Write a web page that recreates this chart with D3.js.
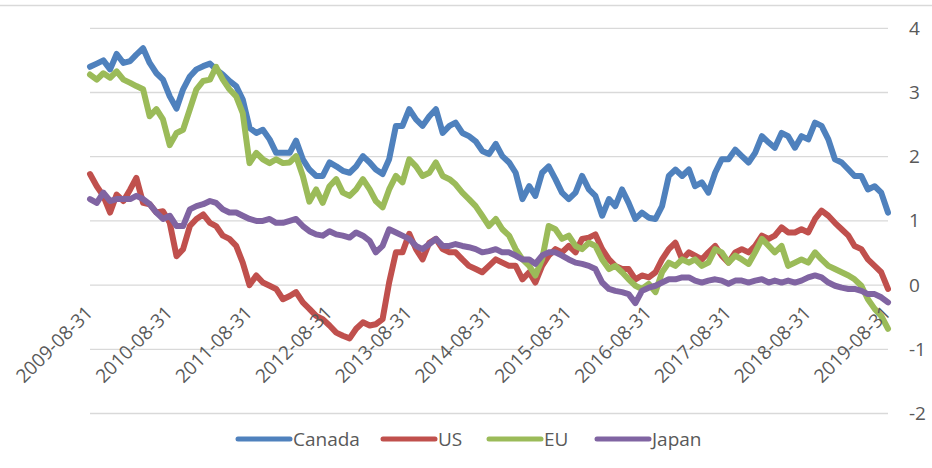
<!DOCTYPE html>
<html><head><meta charset="utf-8">
<script src="https://cdn.jsdelivr.net/npm/d3@7"></script>
<style>body{margin:0;background:#fff}svg{display:block}text{font-family:"Open Sans",sans-serif;fill:#595959}</style>
</head><body><svg id="c" width="932" height="468"></svg>
<script>
// Monthly readings starting 2009-08-31 (121 months)
const startDate = "2009-08-31";
const seriesNames = ["Canada","US","EU","Japan"];
const seriesColors = ["#4F81BD","#C0504D","#9BBB59","#8064A2"];
const tickLabels = ["2009-08-31","2010-08-31","2011-08-31","2012-08-31","2013-08-31","2014-08-31","2015-08-31","2016-08-31","2017-08-31","2018-08-31","2019-08-31"];
const yTicks = [-2,-1,0,1,2,3,4];

const canada = [3.4,3.45,3.5,3.36,3.6,3.46,3.49,3.59,3.69,3.46,3.3,3.2,2.94,2.75,3.05,3.25,3.36,3.41,3.45,3.36,3.28,3.18,3.1,2.89,2.45,2.37,2.42,2.27,2.06,2.06,
 2.06,2.25,1.96,1.8,1.7,1.7,1.91,1.85,1.78,1.75,1.85,2.01,1.91,1.8,1.73,1.96,2.48,2.48,2.74,2.58,2.48,2.63,2.74,2.37,2.48,2.53,2.37,2.32,2.24,2.09,
 2.04,2.2,2.01,1.91,1.75,1.34,1.54,1.39,1.75,1.85,1.65,1.44,1.34,1.44,1.7,1.49,1.39,1.08,1.34,1.23,1.49,1.28,1.03,1.13,1.05,1.03,1.23,1.7,1.8,1.7,
 1.8,1.54,1.6,1.44,1.75,1.96,1.96,2.11,2.01,1.91,2.06,2.32,2.22,2.14,2.37,2.32,2.14,2.32,2.27,2.53,2.48,2.27,1.96,1.91,1.8,1.7,1.7,1.49,1.54,1.44,1.13];
const us = [1.73,1.54,1.39,1.13,1.41,1.31,1.49,1.67,1.28,1.26,1.13,1.15,0.97,0.45,0.56,0.92,1.03,1.1,0.97,0.92,0.77,0.72,0.61,0.35,0.0,0.15,0.04,-0.01,-0.06,-0.22,
 -0.17,-0.11,-0.27,-0.37,-0.48,-0.53,-0.63,-0.74,-0.79,-0.83,-0.68,-0.58,-0.63,-0.61,-0.53,0.04,0.51,0.51,0.8,0.56,0.4,0.66,0.72,0.56,0.51,0.51,0.4,0.3,0.25,0.2,
 0.3,0.4,0.35,0.3,0.3,0.09,0.2,0.04,0.3,0.46,0.56,0.51,0.61,0.51,0.72,0.74,0.79,0.56,0.4,0.3,0.25,0.25,0.09,0.15,0.12,0.2,0.4,0.56,0.66,0.4,
 0.51,0.46,0.4,0.51,0.61,0.46,0.35,0.51,0.56,0.51,0.61,0.77,0.72,0.77,0.9,0.82,0.82,0.87,0.82,1.03,1.16,1.08,0.97,0.87,0.77,0.61,0.56,0.4,0.3,0.2,-0.06];
const eu = [3.28,3.2,3.3,3.23,3.33,3.2,3.15,3.1,3.05,2.63,2.74,2.58,2.18,2.37,2.42,2.74,3.05,3.18,3.2,3.4,3.2,3.05,2.94,2.68,1.9,2.06,1.96,1.9,1.96,1.9,
 1.91,2.01,1.7,1.3,1.49,1.28,1.54,1.65,1.44,1.39,1.49,1.65,1.49,1.31,1.21,1.49,1.7,1.6,1.96,1.85,1.7,1.75,1.91,1.7,1.65,1.57,1.44,1.34,1.23,1.08,
 0.92,1.03,0.87,0.77,0.56,0.4,0.3,0.15,0.4,0.92,0.87,0.72,0.77,0.61,0.56,0.66,0.61,0.4,0.25,0.3,0.2,0.09,-0.01,-0.06,0.02,-0.11,0.2,0.35,0.3,0.4,
 0.35,0.4,0.3,0.35,0.56,0.51,0.35,0.46,0.4,0.33,0.51,0.72,0.61,0.51,0.61,0.3,0.35,0.4,0.35,0.51,0.4,0.3,0.25,0.2,0.15,0.09,-0.01,-0.22,-0.37,-0.48,-0.68];
const japan = [1.34,1.28,1.44,1.31,1.34,1.34,1.34,1.39,1.34,1.26,1.13,1.03,1.08,0.92,0.92,1.18,1.23,1.26,1.31,1.28,1.18,1.13,1.13,1.08,1.03,1.0,1.0,1.03,0.97,0.97,
 1.0,1.03,0.92,0.84,0.79,0.77,0.84,0.79,0.77,0.74,0.82,0.77,0.69,0.51,0.61,0.87,0.82,0.77,0.72,0.61,0.56,0.64,0.72,0.61,0.61,0.64,0.61,0.59,0.56,0.51,
 0.53,0.56,0.51,0.51,0.46,0.4,0.4,0.33,0.46,0.51,0.51,0.46,0.4,0.35,0.33,0.3,0.25,0.04,-0.06,-0.09,-0.11,-0.14,-0.28,-0.09,-0.04,-0.01,0.04,0.09,0.09,0.12,
 0.12,0.07,0.04,0.07,0.09,0.07,0.02,0.07,0.07,0.04,0.07,0.09,0.04,0.07,0.04,0.07,0.04,0.07,0.12,0.15,0.12,0.04,-0.01,-0.04,-0.06,-0.06,-0.09,-0.14,-0.14,-0.19,-0.27];
const seriesValues = [canada, us, eu, japan];

const svg = d3.select("#c");
const parse = d3.timeParse("%Y-%m-%d");
const t0 = parse(startDate);
const dates = canada.map((_, i) => d3.timeMonth.offset(t0, i));
const x = d3.scaleTime().domain([t0, parse(tickLabels[tickLabels.length-1])]).range([90, 888]);
const y = d3.scaleLinear().domain([-2, 4]).range([413.5, 28.3]);

// frame top
svg.append("line").attr("x1",0).attr("x2",932).attr("y1",5.5).attr("y2",5.5).attr("stroke","#D9D9D9").attr("stroke-width",1.5);

// gridlines
svg.append("g").selectAll("line").data(yTicks).join("line")
  .attr("x1",90).attr("x2",888).attr("y1",d=>y(d)).attr("y2",d=>y(d))
  .attr("stroke","#D9D9D9").attr("stroke-width",1.3);

// right axis labels
const yAxis = d3.axisRight(y).tickValues(yTicks).tickSize(0).tickPadding(0).tickFormat(d => String(d));
const ya = svg.append("g").attr("transform","translate(909,0)").call(yAxis);
ya.select(".domain").remove();
ya.selectAll("text").attr("font-size",19).attr("fill","#595959").style("font-family","'Open Sans',sans-serif");

// lines
const line = d3.line().x((d,i)=>x(dates[i])).y(d=>y(d));
seriesValues.forEach((vals, k) => {
  svg.append("path").datum(vals).attr("d", line).attr("fill","none")
    .attr("stroke", seriesColors[k]).attr("stroke-width",6).attr("stroke-linejoin","round").attr("stroke-linecap","round");
});

// x labels
const xa = svg.append("g");
xa.selectAll("text").data(tickLabels).join("text")
  .attr("transform", d => `translate(${x(parse(d))+4},314) rotate(-45)`)
  .attr("text-anchor","end").attr("font-size",19).text(d=>d);

// legend
const legX = [238, 383, 489, 597];
const lg = svg.append("g");
seriesNames.forEach((n,k)=>{
  lg.append("line").attr("x1",legX[k]).attr("x2",legX[k]+52).attr("y1",439).attr("y2",439)
    .attr("stroke",seriesColors[k]).attr("stroke-width",5).attr("stroke-linecap","round");
  lg.append("text").attr("x",legX[k]+55).attr("y",446).attr("font-size",19).text(n);
});
</script></body></html>
